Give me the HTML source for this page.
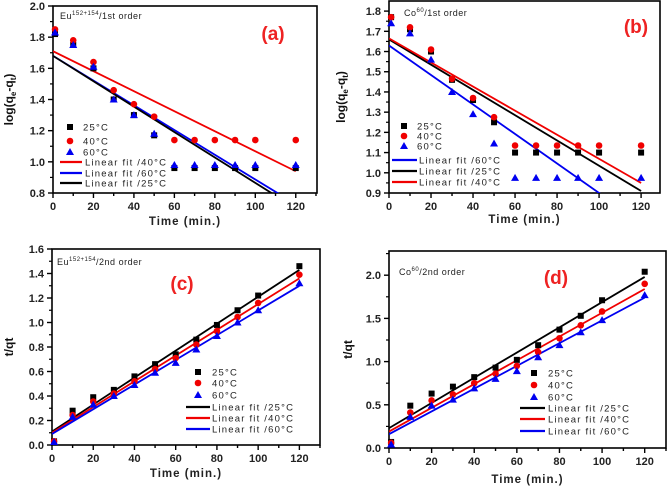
<!DOCTYPE html>
<html><head><meta charset="utf-8"><style>
body{margin:0;background:#fff;width:668px;height:490px;overflow:hidden}
svg{font-family:"Liberation Sans",Arial,sans-serif}
</style></head><body>
<svg id="c" width="668" height="490"></svg>
<script>
const xTicks=[0,20,40,60,80,100,120];
const times=[1,10,20,30,40,50,60,70,80,90,100,120];
// Panel a
const aY25=[1.82,1.75,1.60,1.40,1.30,1.17,0.96,0.96,0.96,0.96,0.96,0.96];
const aY40=[1.85,1.78,1.64,1.46,1.37,1.29,1.14,1.14,1.14,1.14,1.14,1.14];
const aY60=[1.83,1.75,1.61,1.40,1.30,1.18,0.98,0.98,0.98,0.98,0.98,0.98];
const aFit25=[1.68,-0.00815];const aFit40=[1.71,-0.00642];const aFit60=[1.68,-0.00793];
const aYTicks=[0.8,1.0,1.2,1.4,1.6,1.8,2.0];
// Panel b
const bY25=[1.77,1.71,1.60,1.46,1.36,1.25,1.10,1.10,1.10,1.10,1.10,1.10];
const bY40=[1.77,1.72,1.61,1.465,1.37,1.275,1.135,1.135,1.135,1.135,1.135,1.135];
const bY60=[1.74,1.69,1.56,1.40,1.29,1.145,0.975,0.975,0.975,0.975,0.975,0.975];
const bFit25=[1.66,-0.00625];const bFit40=[1.665,-0.00596];const bFit60=[1.63,-0.0073];
const bYTicks=[0.9,1.0,1.1,1.2,1.3,1.4,1.5,1.6,1.7,1.8];
// Panel c
const cY25=[0.03,0.28,0.39,0.45,0.56,0.66,0.74,0.86,0.98,1.10,1.22,1.46];
const cY40=[0.03,0.245,0.355,0.42,0.52,0.62,0.71,0.82,0.93,1.045,1.16,1.39];
const cY60=[0.025,0.23,0.33,0.40,0.49,0.59,0.67,0.78,0.89,1.0,1.10,1.32];
const cFit25=[0.11,0.0110];const cFit40=[0.10,0.0105];const cFit60=[0.09,0.01008];
const cYTicks=[0.0,0.2,0.4,0.6,0.8,1.0,1.2,1.4,1.6];
// Panel d
const dY25=[0.07,0.49,0.63,0.71,0.82,0.93,1.02,1.19,1.37,1.53,1.71,2.04];
const dY40=[0.06,0.41,0.55,0.62,0.75,0.86,0.95,1.11,1.27,1.42,1.58,1.90];
const dY60=[0.04,0.36,0.49,0.56,0.69,0.80,0.89,1.05,1.19,1.34,1.48,1.77];
const dFit25=[0.23,0.01458];const dFit40=[0.19,0.01375];const dFit60=[0.16,0.01317];
const dYTicks=[0.0,0.5,1.0,1.5,2.0];

const NS="http://www.w3.org/2000/svg";
const svg=document.getElementById('c');
function mk(tag,attrs,parent,text){const e=document.createElementNS(NS,tag);for(const k in attrs)e.setAttribute(k,attrs[k]);if(text!==undefined)e.textContent=text;(parent||svg).appendChild(e);return e;}
const RED='#f00000',BLUE='#0000f0',BLK='#000';
function marker(g,type,x,y,col){
  let e;
  if(type==='sq')e=mk('rect',{x:x-3,y:y-3,width:6,height:6,fill:col},g);
  else if(type==='ci')e=mk('circle',{cx:x,cy:y,r:3.3,fill:col},g);
  else e=mk('polygon',{points:`${x},${y-4} ${x-4},${y+3} ${x+4},${y+3}`,fill:col},g);
  return e;
}
function panel(p){
  const g=mk('g',{});
  
  
  const X=v=>p.L+(v-p.xmin)/(p.xmax-p.xmin)*(p.R-p.L);
  const Y=v=>p.B-(v-p.ymin)/(p.ymax-p.ymin)*(p.B-p.T);
  const clip=mk('clipPath',{id:'cl'+p.id},g);mk('rect',{x:p.L,y:p.T,width:p.R-p.L,height:p.B-p.T},clip);
  // frame
  const fr=mk('rect',{x:p.L,y:p.T,width:p.R-p.L,height:p.B-p.T,fill:'none',stroke:'#000','stroke-width':1.6},g);
  
  // x ticks
  for(let v=0;v<=p.xmax;v+=10){const major=xTicks.includes(v);const x=X(v);
    mk('line',{x1:x,y1:p.B,x2:x,y2:p.B+(major?5:3),stroke:'#000','stroke-width':1.4},g);}
  xTicks.forEach(v=>{const t=mk('text',{x:X(v),y:p.B+p.xlab,'font-size':11,'font-weight':'bold','text-anchor':'middle',fill:'#222'},g,String(v));
    });
  // y ticks
  const yt=p.yticks;const step=yt[1]-yt[0];
  for(let i=0;i<yt.length;i++){const y=Y(yt[i]);mk('line',{x1:p.L-5,y1:y,x2:p.L,y2:y,stroke:'#000','stroke-width':1.4},g);
    const m=yt[i]+step/2; if(m<p.ymax){mk('line',{x1:p.L-3,y1:Y(m),x2:p.L,y2:Y(m),stroke:'#000','stroke-width':1.2},g);}
    const t=mk('text',{x:p.L-8,y:y+4,'font-size':11,'font-weight':'bold','text-anchor':'end',fill:'#222'},g,yt[i].toFixed(p.dec));
    }
  const xt=mk('text',{x:(p.L+p.R)/2,y:p.B+p.xtit,'font-size':11.5,'font-weight':'bold','text-anchor':'middle','letter-spacing':'1',fill:'#222'},g,'Time (min.)');
  
  const ytg=mk('text',{transform:`translate(${p.yx},${(p.T+p.B)/2}) rotate(-90)`,'font-size':12,'font-weight':'bold','text-anchor':'middle',fill:'#111'},g);
  
  if(p.first){ytg.appendChild(document.createTextNode('log(q'));mk('tspan',{'font-size':8,dy:3},ytg,'e');mk('tspan',{dy:-3},ytg,'-q');mk('tspan',{'font-size':8,dy:3},ytg,'t');mk('tspan',{dy:-3},ytg,')');}
  else ytg.textContent='t/qt';
  // annotation
  const an=mk('text',{x:p.ann[0],y:p.ann[1],'font-size':9,fill:'#222','letter-spacing':'0.5'},g);
  
  an.appendChild(document.createTextNode(p.annA));mk('tspan',{'font-size':6,dy:-4},an,p.annS);mk('tspan',{dy:4},an,p.annB);
  const lb=mk('text',{x:p.lab[0],y:p.lab[1],'font-size':19,'font-weight':'bold',fill:'#ee2222','text-anchor':'middle'},g,p.labT);
  
  // fits
  const fg=mk('g',{'clip-path':`url(#cl${p.id})`},g);
  p.fits.forEach(f=>{const l=mk('line',{x1:X(0),y1:Y(f.c[0]),x2:X(120),y2:Y(f.c[0]+f.c[1]*120),stroke:f.col,'stroke-width':1.8},fg);
    });
  // points
  p.series.forEach(s=>{times.forEach((t,i)=>{const m=marker(g,s.m,X(t),Y(s.v[i]),s.col);
    });});
  // legend
  const lg=mk('g',{},g);
  p.leg.forEach(e=>{
    if(e.m){marker(lg,e.m,e.mx,e.y,e.col);}
    else mk('line',{x1:e.lx1,y1:e.y,x2:e.lx2,y2:e.y,stroke:e.col,'stroke-width':2.2},lg);
    const t=mk('text',{x:e.tx,y:e.y+3.5,'font-size':9.5,fill:'#222','letter-spacing':'1.2'},lg,e.t);
    });
}
function legPts(mx,tx,ys){return[{m:'sq',col:BLK,mx,tx,y:ys[0],t:'25°C'},{m:'ci',col:RED,mx,tx,y:ys[1],t:'40°C'},{m:'tri',col:BLUE,mx,tx,y:ys[2],t:'60°C'}];}
function legLines(l1,l2,tx,ys,order){return order.map((o,i)=>({lx1:l1,lx2:l2,tx,y:ys[i],col:o[0],t:'Linear fit /'+o[1]}));}
const S=(a,b,c)=>[{m:'sq',col:BLK,v:a,n:'25C'},{m:'ci',col:RED,v:b,n:'40C'},{m:'tri',col:BLUE,v:c,n:'60C'}];
panel({id:'a',L:53,R:317,T:6,B:193,xmin:0,xmax:130.5,ymin:0.8,ymax:2.0,yticks:aYTicks,dec:1,xlab:17,xtit:32,yx:13,first:true,
  ann:[60,19],annA:'Eu',annS:'152+154',annB:'/1st order',lab:[273,40],labT:'(a)',
  fits:[{c:aFit40,col:RED,n:'40C'},{c:aFit60,col:BLUE,n:'60C'},{c:aFit25,col:BLK,n:'25C'}],
  series:S(aY25,aY40,aY60),
  leg:legPts(70,83,[127,141,152]).concat(legLines(60,82,85,[162,173,183],[[RED,'40°C'],[BLUE,'60°C'],[BLK,'25°C']]))});
panel({id:'b',L:389,R:660,T:1,B:193,xmin:0,xmax:129,ymin:0.9,ymax:1.85,yticks:bYTicks,dec:1,xlab:17,xtit:30,yx:345,first:true,
  ann:[404,16],annA:'Co',annS:'60',annB:'/1st order',lab:[636,33],labT:'(b)',
  fits:[{c:bFit60,col:BLUE,n:'60C'},{c:bFit25,col:BLK,n:'25C'},{c:bFit40,col:RED,n:'40C'}],
  series:S(bY25,bY40,bY60),
  leg:legPts(404,417,[126,136,146]).concat(legLines(392,417,419,[160,171,182],[[BLUE,'60°C'],[BLK,'25°C'],[RED,'40°C']]))});
panel({id:'c',L:52,R:320,T:249,B:445,xmin:0,xmax:130,ymin:0,ymax:1.6,yticks:cYTicks,dec:1,xlab:17,xtit:32,yx:13,first:false,
  ann:[57,265],annA:'Eu',annS:'152+154',annB:'/2nd order',lab:[182,290],labT:'(c)',
  fits:[{c:cFit25,col:BLK,n:'25C'},{c:cFit40,col:RED,n:'40C'},{c:cFit60,col:BLUE,n:'60C'}],
  series:S(cY25,cY40,cY60),
  leg:legPts(198,212,[372,383,395]).concat(legLines(186,210,212,[407,418,429],[[BLK,'25°C'],[RED,'40°C'],[BLUE,'60°C']]))});
panel({id:'d',L:389,R:666,T:251,B:448,xmin:0,xmax:130,ymin:0,ymax:2.28,yticks:dYTicks,dec:1,xlab:17,xtit:35,yx:352,first:false,
  ann:[399,275],annA:'Co',annS:'60',annB:'/2nd order',lab:[556,284],labT:'(d)',
  fits:[{c:dFit25,col:BLK,n:'25C'},{c:dFit40,col:RED,n:'40C'},{c:dFit60,col:BLUE,n:'60C'}],
  series:S(dY25,dY40,dY60),
  leg:legPts(534,548,[373,385,397]).concat(legLines(520,545,548,[408,419,431],[[BLK,'25°C'],[RED,'40°C'],[BLUE,'60°C']]))});
</script>
</body></html>
